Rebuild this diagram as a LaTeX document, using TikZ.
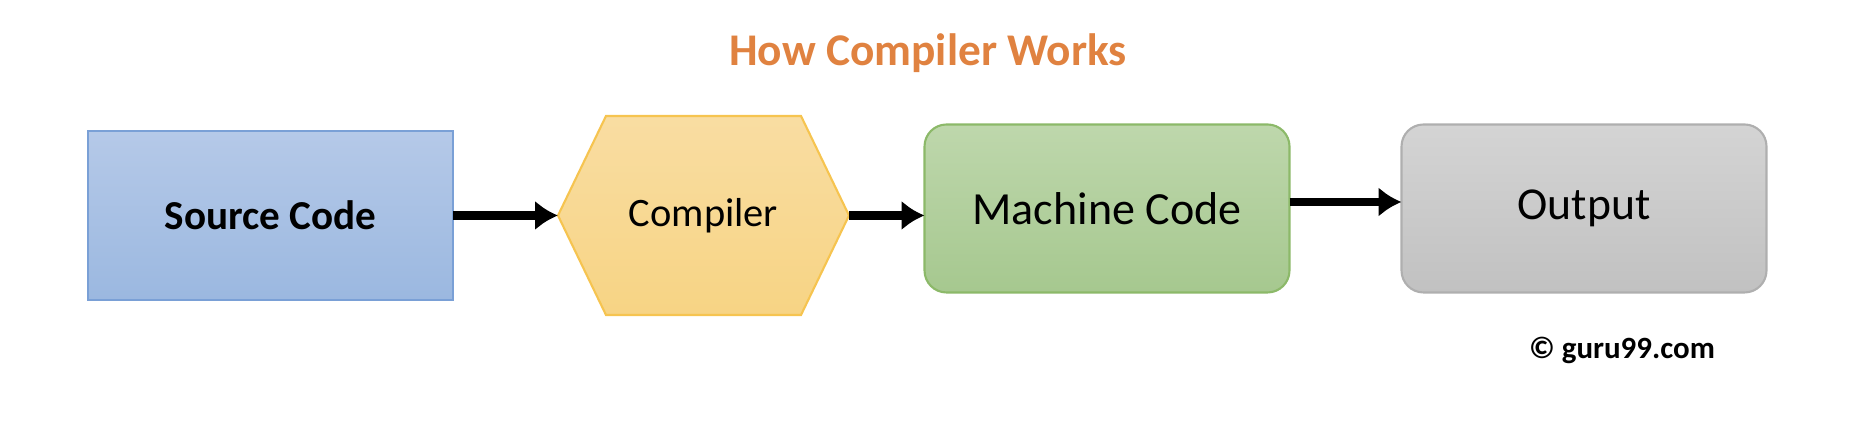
\documentclass[tikz,border=0pt]{standalone}
\usepackage{fontspec}
\setmainfont{Carlito}
\usetikzlibrary{arrows.meta,backgrounds}
\definecolor{titleorange}{RGB}{224,130,64}
\definecolor{srcline}{RGB}{122,160,214}
\definecolor{compline}{RGB}{246,196,80}
\definecolor{mcline}{RGB}{140,185,105}
\definecolor{outline}{RGB}{175,175,175}

\begin{document}
\begin{tikzpicture}[>={Latex[length=2.3mm,width=3mm]},
     every node/.style = {outer sep = 0pt, inner sep = 0pt},
     box/.style = {minimum width = 3.65cm, minimum height = 1.68cm,
     line width = 0.6pt},
     flow/.style = {->, line width = 2.3pt}]
        \useasboundingbox (0,0) rectangle (18.56,4.34);
        \node [font=\fontsize{12.9}{15}\selectfont\bfseries, text=titleorange] 
            at (9.28,3.81)  (title) {How Compiler Works};
        \node [box, minimum height=1.69cm, draw=srcline, 
                top color={rgb,255:red,181;green,201;blue,232}, 
                bottom color={rgb,255:red,155;green,184;blue,224},
                font=\fontsize{11.7}{14}\selectfont\bfseries] 
            at (2.705,2.185) (src) {Source Code};
        \node [minimum width=2.91cm, minimum height=1.99cm, 
                font=\fontsize{11.5}{14}\selectfont] 
            at (7.035,2.185) (comp) {Compiler};
        \node [box, rounded corners=0.22cm, draw=mcline, 
                top color={rgb,255:red,190;green,215;blue,172}, 
                bottom color={rgb,255:red,166;green,200;blue,143},
                font=\fontsize{13.1}{16}\selectfont] 
            at (11.07,2.255) (mc) {Machine Code};
        \node [box, rounded corners=0.22cm, draw=outline, 
                top color={rgb,255:red,212;green,212;blue,212}, 
                bottom color={rgb,255:red,193;green,193;blue,193},
                font=\fontsize{13}{16}\selectfont] 
            at (15.84,2.255) (out) {Output};
        \node [font=\fontsize{8.8}{11}\selectfont\bfseries] 
            at (16.22,0.84) (copy) {\textcopyright{} guru99.com};
        % hexagon behind the compiler text
        \begin{scope}[on background layer]
        \draw [draw=compline, line width=0.6pt,
                top color={rgb,255:red,249;green,221;blue,162}, 
                bottom color={rgb,255:red,247;green,212;blue,132}]
            (comp.west) -- ([xshift=0.48cm]comp.north west) 
            -- ([xshift=-0.48cm]comp.north east) -- (comp.east) 
            -- ([xshift=-0.48cm]comp.south east) 
            -- ([xshift=0.48cm]comp.south west) -- cycle;
        \end{scope}
        \draw [flow] (src.east) -- (comp.west);
        \draw [flow] (comp.east) -- (comp.east -| mc.west);
        \draw [flow] ([yshift=0.65mm]mc.east) -- ([yshift=0.65mm]out.west);
\end{tikzpicture}
\end{document}
